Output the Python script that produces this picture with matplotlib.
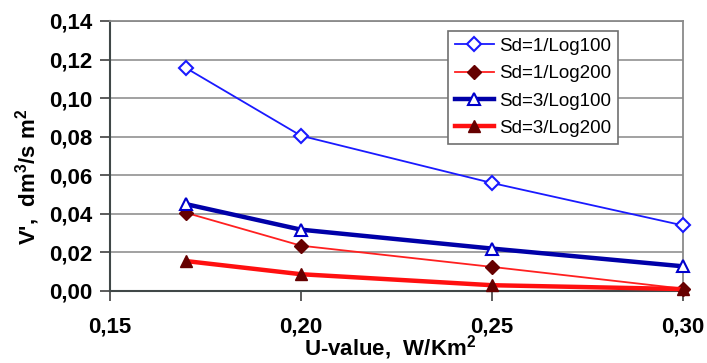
import matplotlib
matplotlib.use("Agg")
import matplotlib.pyplot as plt
from matplotlib.ticker import FixedLocator, FuncFormatter

u_values = [0.17, 0.20, 0.25, 0.30]
sd1_log100 = [0.1155, 0.0805, 0.056, 0.034]
sd1_log200 = [0.0405, 0.0235, 0.0125, 0.0012]
sd3_log100 = [0.045, 0.0318, 0.022, 0.0128]
sd3_log200 = [0.0155, 0.0087, 0.0030, 0.0010]
labels = ["Sd=1/Log100", "Sd=1/Log200", "Sd=3/Log100", "Sd=3/Log200"]
x_ticks = [0.15, 0.20, 0.25, 0.30]
y_ticks = [0.00, 0.02, 0.04, 0.06, 0.08, 0.10, 0.12, 0.14]

plt.rcParams['font.family'] = ['Liberation Sans', 'DejaVu Sans']
plt.rcParams['mathtext.fontset'] = 'custom'
plt.rcParams['mathtext.rm'] = 'Liberation Sans:bold'
plt.rcParams['mathtext.bf'] = 'Liberation Sans:bold'

W, H = 707, 363
fig = plt.figure(figsize=(W/100, H/100), dpi=100)
ax = fig.add_axes([110/W, 1-291/H, (683-110)/W, (291-21)/H])

ax.plot(u_values, sd1_log100, color='#1a1aff', lw=1.3, marker='D', ms=7,
        mfc='white', mec='#1a1aff', mew=1.5, label=labels[0], zorder=3, clip_on=False)
ax.plot(u_values, sd1_log200, color='#ff2020', lw=1.3, marker='D', ms=7,
        mfc='#660000', mec='#660000', label=labels[1], zorder=3, clip_on=False)
ax.plot(u_values, sd3_log100, color='#0000a8', lw=3.2, marker='^', ms=9,
        mfc='white', mec='#0000cc', mew=1.5, label=labels[2], zorder=3, clip_on=False)
ax.plot(u_values, sd3_log200, color='#ff1010', lw=3.2, marker='^', ms=9,
        mfc='#660000', mec='#660000', label=labels[3], zorder=3, clip_on=False)

ax.set_xlim(0.15, 0.30)
ax.set_ylim(0, 0.14)
ax.xaxis.set_major_locator(FixedLocator(x_ticks))
ax.yaxis.set_major_locator(FixedLocator(y_ticks))
fmt = FuncFormatter(lambda v, p: f"{v:.2f}".replace('.', ','))
ax.xaxis.set_major_formatter(fmt)
ax.yaxis.set_major_formatter(fmt)
ax.tick_params(axis='both', labelsize=16, direction='out', length=7,
               width=1.2, color='#404040', pad=6)
for lab in ax.get_xticklabels() + ax.get_yticklabels():
    lab.set_fontweight('bold')
ax.tick_params(axis='x', pad=11)

ax.grid(axis='y', color='#9a9a9a', lw=1.3)
ax.set_axisbelow(True)
for s in ['left', 'bottom']:
    ax.spines[s].set_color('#404848')
    ax.spines[s].set_linewidth(1.5)
for s in ['right', 'top']:
    ax.spines[s].set_color('#8a8a8a')
    ax.spines[s].set_linewidth(1.3)

fig.text(28/W, 1-177/H, "V',  dm$^3$/s m$^2$", fontsize=16, fontweight='bold',
         rotation=90, ha='center', va='center')
fig.text(390/W, 1-355/H, "U-value,  W/Km$^2$", fontsize=16, fontweight='bold',
         ha='center', va='baseline')

leg = ax.legend(loc='upper left', bbox_to_anchor=((448-110)/573, 1-(31-21)/270),
                fontsize=13.5, frameon=True, fancybox=False, edgecolor='#707070',
                framealpha=1, handlelength=2.1, borderpad=0.35, labelspacing=0.55,
                handletextpad=0.3, borderaxespad=0)
leg.get_frame().set_linewidth(1.2)
leg.set_zorder(5)

fig.savefig("out.png", dpi=100)
